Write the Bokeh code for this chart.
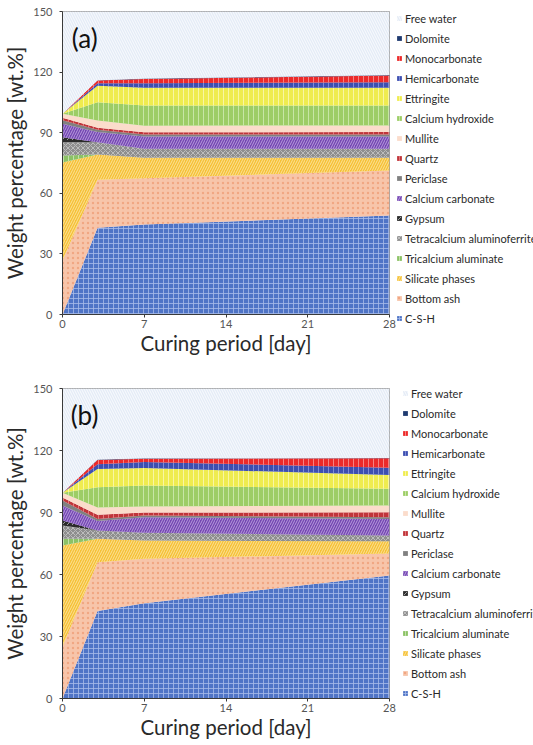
from bokeh.plotting import figure
from bokeh.models import (ColumnDataSource, Legend, LegendItem, Label, Range1d,
                          FixedTicker)
from bokeh.layouts import column, row
from bokeh.embed import file_html
from bokeh.resources import INLINE

# Curing ages [day]
days = [0, 3, 7, 28]

# Phases, bottom of the stack first
phases = ["C-S-H", "Bottom ash", "Silicate phases", "Tricalcium aluminate",
          "Tetracalcium aluminoferrite", "Gypsum", "Calcium carbonate", "Periclase",
          "Quartz", "Mullite", "Calcium hydroxide", "Ettringite", "Hemicarbonate",
          "Monocarbonate", "Dolomite", "Free water"]

# Mix (a) phase contents [wt.%] at 0, 3, 7, 28 days
a_csh = [0.0, 43.0, 44.5, 49.0]
a_bottom_ash = [26.7, 23.7, 23.0, 22.3]
a_silicates = [48.5, 12.5, 10.1, 6.3]
a_c3a = [3.5, 0.0, 0.0, 0.0]
a_c4af = [6.6, 6.1, 4.4, 4.4]
a_gypsum = [2.5, 0.0, 0.0, 0.0]
a_caco3 = [6.6, 5.0, 6.1, 6.1]
a_periclase = [1.8, 1.1, 1.0, 1.0]
a_quartz = [1.2, 1.0, 1.1, 1.2]
a_mullite = [2.0, 3.6, 3.3, 3.3]
a_portlandite = [0.0, 9.1, 10.0, 9.9]
a_ettringite = [0.0, 8.1, 8.7, 8.7]
a_hemicarbonate = [0.0, 1.3, 2.3, 2.8]
a_monocarbonate = [0.0, 1.3, 2.1, 3.3]
a_dolomite = [0.0, 0.2, 0.2, 0.3]
a_free_water = [50.6, 34.0, 33.2, 31.4]

# Mix (b) phase contents [wt.%] at 0, 3, 7, 28 days
b_csh = [0.0, 42.3, 46.1, 59.5]
b_bottom_ash = [25.0, 23.6, 21.5, 10.7]
b_silicates = [49.0, 11.4, 8.8, 5.9]
b_c3a = [3.3, 0.0, 0.0, 0.0]
b_c4af = [6.4, 4.0, 3.8, 2.8]
b_gypsum = [2.4, 0.0, 0.0, 0.0]
b_caco3 = [7.3, 4.6, 7.5, 8.0]
b_periclase = [2.4, 1.0, 0.8, 0.8]
b_quartz = [1.4, 2.0, 1.5, 2.4]
b_mullite = [2.3, 3.5, 2.9, 3.3]
b_portlandite = [0.0, 9.8, 10.2, 8.1]
b_ettringite = [0.0, 8.9, 8.4, 6.7]
b_hemicarbonate = [0.0, 2.2, 2.9, 3.5]
b_monocarbonate = [0.0, 2.1, 1.6, 4.5]
b_dolomite = [0.0, 0.2, 0.2, 0.2]
b_free_water = [50.5, 34.4, 33.8, 33.6]

y_ticks = [0, 30, 60, 90, 120, 150]
x_ticks = [0, 7, 14, 21, 28]

# fill colour, hatch pattern, hatch colour for each phase (stack order)
fills = ["#4f74c6", "#f7c5aa", "#f5c136", "#8cc266", "#8e8e8e", "#2b2b2b",
         "#7446b2", "#808080", "#c0353a", "#fbdccb", "#9dcd66", "#efec4f",
         "#3d4fb0", "#ec2a2a", "#1f3a70", "#e4ebf6"]
hatches = ["+", ".", "/", "|", "x", ",", "/", " ", "|", " ", "|", "|",
           "|", "|", " ", "\\"]
hatch_colors = ["#a8bce8", "#ef9f78", "#fde9b0", "#cfe8bb", "#c8c8c8", "#bbbbbb",
                "#c7b2e6", "#808080", "#e88a8c", "#fbdccb", "#d2ecb6", "#fbf9b8",
                "#8d9ade", "#f79898", "#1f3a70", "#ffffff"]

FONT = "Lato"
HATCH = dict(hatch_scale=5, hatch_weight=1.0, hatch_alpha=0.8)


def make_plot(series, tag, tag_x, height, top, bottom, right):
    data = {"day": days}
    for name, vals in zip(phases, series):
        data[name] = vals
    src = ColumnDataSource(data)

    p = figure(width=396, height=height,
               x_range=Range1d(0, 28), y_range=Range1d(0, 150),
               output_backend="svg", toolbar_location=None,
               min_border_left=62, min_border_right=right,
               min_border_top=top, min_border_bottom=bottom)

    p.varea_stack(stackers=phases, x="day", source=src,
                  fill_color=fills, hatch_pattern=hatches,
                  hatch_color=hatch_colors, **HATCH)

    p.xgrid.visible = False
    p.ygrid.visible = False
    p.outline_line_color = "#9a9a9a"

    p.xaxis.ticker = FixedTicker(ticks=x_ticks)
    p.yaxis.ticker = FixedTicker(ticks=y_ticks)
    for ax in (p.xaxis[0], p.yaxis[0]):
        ax.axis_line_color = "#3a3a3a"
        ax.major_tick_line_color = "#3a3a3a"
        ax.minor_tick_line_color = None
        ax.major_tick_in = 0
        ax.major_tick_out = 3
        ax.major_label_text_font = FONT
        ax.major_label_text_font_size = "11px"
        ax.major_label_text_color = "#555555"
        ax.axis_label_text_font = FONT
        ax.axis_label_text_font_size = "20.5px"
        ax.axis_label_text_font_style = "normal"
        ax.axis_label_text_color = "#2a2a2a"
    p.xaxis.axis_label = "Curing period [day]"
    p.yaxis.axis_label = "Weight percentage [wt.%]"
    p.xaxis.major_label_standoff = 2
    p.xaxis.axis_label_standoff = 0
    p.yaxis.major_label_standoff = 7
    p.yaxis.axis_label_standoff = 3

    p.add_layout(Label(x=tag_x, y=137, text=tag, text_font=FONT, text_font_size="26px",
                       text_color="#111111", text_baseline="middle", text_align="left"))
    return p


def make_key(height, legend_xy):
    # key panel: one zero-height area per phase, only its swatch is seen
    k = figure(width=137, height=height, x_range=Range1d(0, 1), y_range=Range1d(0, 1),
               output_backend="svg", toolbar_location=None,
               x_axis_location=None, y_axis_location=None,
               min_border=0, outline_line_color=None)
    k.xgrid.visible = False
    k.ygrid.visible = False
    items = []
    for name, fc, hp, hc in zip(phases, fills, hatches, hatch_colors):
        r = k.varea(x=[0], y1=[0], y2=[0], fill_color=fc, hatch_pattern=hp,
                    hatch_color=hc, **HATCH)
        items.append(LegendItem(label=name, renderers=[r]))
    legend = Legend(items=list(reversed(items)), location=legend_xy,
                    orientation="vertical", margin=0, padding=0,
                    glyph_width=6, glyph_height=6, label_standoff=3,
                    label_height=12, spacing=7,
                    label_text_font=FONT, label_text_font_size="11px",
                    label_text_color="#2a2a2a",
                    border_line_color=None, background_fill_alpha=0)
    k.add_layout(legend)
    return k


series_a = [a_csh, a_bottom_ash, a_silicates, a_c3a, a_c4af, a_gypsum, a_caco3,
            a_periclase, a_quartz, a_mullite, a_portlandite, a_ettringite,
            a_hemicarbonate, a_monocarbonate, a_dolomite, a_free_water]
series_b = [b_csh, b_bottom_ash, b_silicates, b_c3a, b_c4af, b_gypsum, b_caco3,
            b_periclase, b_quartz, b_mullite, b_portlandite, b_ettringite,
            b_hemicarbonate, b_monocarbonate, b_dolomite, b_free_water]

pa = make_plot(series_a, "(a)", 0.8, 365, 11, 51, 7)
pb = make_plot(series_b, "(b)", 0.7, 380, 23, 47, 1)
ka = make_key(365, (0, 40.5))
kb = make_key(380, (6, 45.5))

layout = row(column(pa, pb, spacing=0), column(ka, kb, spacing=0), spacing=0)
open("out.html", "w").write(file_html(layout, INLINE))
